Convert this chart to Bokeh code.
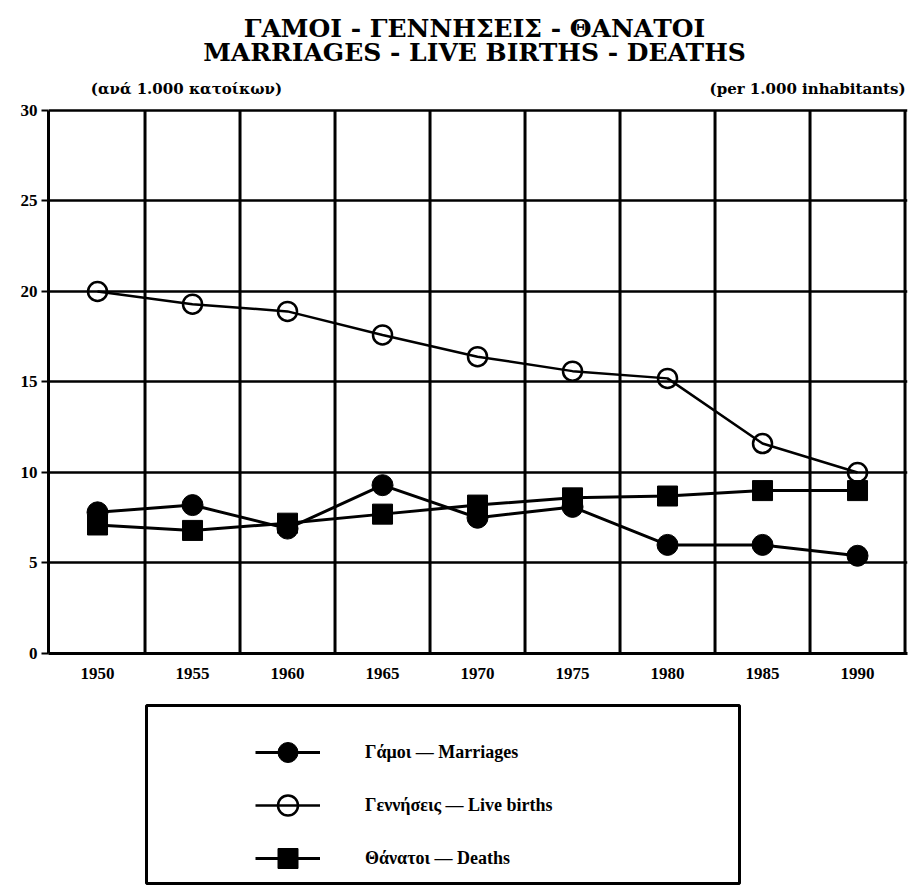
from bokeh.plotting import figure
from bokeh.models import Range1d, FixedTicker, Label, Legend, LegendItem, Spacer
from bokeh.layouts import column, row
from bokeh.embed import file_html
from bokeh.resources import INLINE

years = ["1950", "1955", "1960", "1965", "1970", "1975", "1980", "1985", "1990"]
marriages = [7.8, 8.2, 6.9, 9.3, 7.5, 8.1, 6.0, 6.0, 5.4]
births = [20.0, 19.3, 18.9, 17.6, 16.4, 15.6, 15.2, 11.6, 10.0]
deaths = [7.1, 6.8, 7.2, 7.7, 8.2, 8.6, 8.7, 9.0, 9.0]
y_ticks = [0, 5, 10, 15, 20, 25, 30]
y_tick_labels = ["0", "5", "10", "15", "20", "25", "30"]

title_gr = "ΓΑΜΟΙ - ΓΕΝΝΗΣΕΙΣ - ΘΑΝΑΤΟΙ"
title_en = "MARRIAGES - LIVE BIRTHS - DEATHS"
unit_gr = "(ανά 1.000 κατοίκων)"
unit_en = "(per 1.000 inhabitants)"
legend_labels = ["Γάμοι — Marriages", "Γεννήσεις — Live births", "Θάνατοι — Deaths"]

x = list(range(len(years)))
boundaries = [i + 0.5 for i in x]
FONT = "Liberation Serif"
TFONT = "DejaVu Serif"

Y_MAX = 30
p = figure(width=911, height=703, x_range=Range1d(-0.516, 8.526), y_range=Range1d(0, 36.077),
           toolbar_location=None, output_backend="svg",
           min_border_left=48, min_border_right=4, min_border_top=0, min_border_bottom=50)
p.outline_line_color = None
p.background_fill_color = "white"

# axes
p.xaxis.ticker = FixedTicker(ticks=x)
p.xaxis.major_label_overrides = {i: y for i, y in enumerate(years)}
p.xaxis.major_tick_line_color = None
p.xaxis.minor_tick_line_color = None
p.xaxis.axis_line_width = 3
p.xaxis.axis_line_color = "black"
p.xaxis.major_label_standoff = 8
p.yaxis.ticker = FixedTicker(ticks=y_ticks)
p.yaxis.bounds = (0, Y_MAX)
p.yaxis.major_label_overrides = {t: l for t, l in zip(y_ticks, y_tick_labels)}
p.yaxis.axis_line_width = 3
p.yaxis.axis_line_color = "black"
p.yaxis.major_tick_line_width = 2
p.yaxis.major_tick_in = 0
p.yaxis.major_tick_out = 7
p.yaxis.minor_tick_line_color = None
p.yaxis.major_label_standoff = 4
for ax in (p.xaxis, p.yaxis):
    ax.major_label_text_font = FONT
    ax.major_label_text_font_style = "bold"
    ax.major_label_text_font_size = "17px"
    ax.major_label_text_color = "black"

# grid
p.ygrid.ticker = FixedTicker(ticks=y_ticks[1:])
p.ygrid.grid_line_color = "black"
p.ygrid.grid_line_width = 2.5
p.xgrid.visible = False
p.segment(x0=boundaries, y0=[0] * len(boundaries), x1=boundaries, y1=[Y_MAX] * len(boundaries),
          line_color="black", line_width=3)

# series
p.line(x, marriages, line_color="black", line_width=3)
p.scatter(x, marriages, marker="circle", size=21, fill_color="black", line_color="black")
p.line(x, births, line_color="black", line_width=2.5)
p.scatter(x, births, marker="circle", size=19, fill_alpha=0, line_color="black", line_width=2.5)
p.line(x, deaths, line_color="black", line_width=3)
p.scatter(x, deaths, marker="square", size=20, fill_color="black", line_color="black")

# texts
p.add_layout(Label(x=3.968, y=34.52, text=title_gr, text_align="center", text_baseline="middle",
                   text_font=TFONT, text_font_style="bold", text_font_size="25px", text_color="black"))
p.add_layout(Label(x=3.968, y=33.2, text=title_en, text_align="center", text_baseline="middle",
                   text_font=TFONT, text_font_style="bold", text_font_size="25px", text_color="black"))
p.add_layout(Label(x=-0.07, y=31.2, text=unit_gr, text_align="left", text_baseline="middle",
                   text_font=TFONT, text_font_style="bold", text_font_size="15px", text_color="black"))
p.add_layout(Label(x=8.505, y=31.2, text=unit_en, text_align="right", text_baseline="middle",
                   text_font=TFONT, text_font_style="bold", text_font_size="15px", text_color="black"))

# legend figure
q = figure(width=597, height=182, x_range=Range1d(100, 101), y_range=Range1d(100, 101),
           toolbar_location=None, output_backend="svg", x_axis_location=None, y_axis_location=None,
           min_border_left=2, min_border_right=2, min_border_top=2, min_border_bottom=2)
q.grid.visible = False
q.outline_line_color = "black"
q.outline_line_width = 3
qlm = q.line(x, marriages, line_color="black", line_width=3)
qsm = q.scatter(x, marriages, marker="circle", size=21, fill_color="black", line_color="black")
qlb = q.line(x, births, line_color="black", line_width=2.5)
qsb = q.scatter(x, births, marker="circle", size=19, fill_alpha=0, line_color="black", line_width=2.5)
qld = q.line(x, deaths, line_color="black", line_width=3)
qsd = q.scatter(x, deaths, marker="square", size=20, fill_color="black", line_color="black")

legend = Legend(items=[LegendItem(label=legend_labels[0], renderers=[qlm, qsm]),
                       LegendItem(label=legend_labels[1], renderers=[qlb, qsb]),
                       LegendItem(label=legend_labels[2], renderers=[qld, qsd])],
                location=(109, 0), padding=0, spacing=3, glyph_width=65, glyph_height=50,
                label_height=50, label_standoff=45, border_line_alpha=0, background_fill_alpha=0,
                label_text_font=FONT, label_text_font_style="bold", label_text_font_size="18px",
                label_text_color="black")
q.add_layout(legend)

layout = column(p, row(Spacer(width=144), q))

open("out.html", "w").write(file_html(layout, INLINE))
